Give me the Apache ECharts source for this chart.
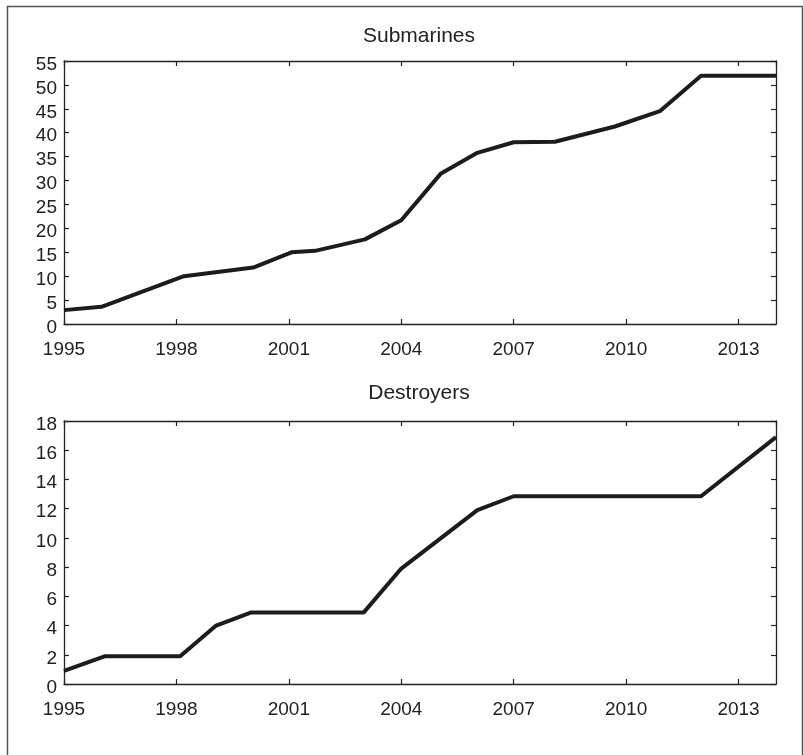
<!DOCTYPE html>
<html>
<head>
<meta charset="utf-8">
<script src="https://cdn.jsdelivr.net/npm/echarts@6/dist/echarts.min.js"></script>
<style>
html,body{margin:0;padding:0;background:#fff;}
#chart{width:803px;height:755px;}
</style>
</head>
<body>
<div id="chart"></div>
<script>
// Submarines
var subYears = [1995, 1996, 1998.2, 2000.05, 2001.07, 2001.7, 2003.03, 2004, 2005.05, 2006.03, 2007, 2008.1, 2009.7, 2010.9, 2012, 2014];
var subValues = [2.9, 3.6, 10.0, 11.8, 15.0, 15.3, 17.7, 21.7, 31.4, 35.8, 38.0, 38.1, 41.3, 44.5, 51.9, 51.9];
// Destroyers
var desYears = [1995, 1996.1, 1998.1, 1999.06, 2000, 2003, 2004, 2006.03, 2007, 2012, 2014];
var desValues = [0.9, 1.9, 1.9, 4.0, 4.9, 4.9, 7.9, 11.9, 12.85, 12.85, 16.9];
var titles = ['Submarines', 'Destroyers'];
var xMin = 1995, xMax = 2014, xStep = 3;
var subYMax = 55, subYStep = 5;
var desYMax = 18, desYStep = 2;

function pairs(xs, ys) { return xs.map(function (x, i) { return [x, ys[i]]; }); }

var FONT = 'Liberation Sans, Arial, sans-serif';
var INK = '#222';
var frameLine = { show: true, onZero: false, lineStyle: { color: INK, width: 1.3 } };
var tick = { show: true, inside: true, length: 5, lineStyle: { color: INK, width: 1.2 } };
var lbl = { color: INK, fontSize: 19, fontFamily: FONT };

function xAxes(gi) {
  return [
    { gridIndex: gi, type: 'value', min: xMin, max: xMax, interval: xStep, position: 'bottom',
      axisLine: frameLine, axisTick: tick, splitLine: { show: false },
      axisLabel: Object.assign({ margin: 16, showMaxLabel: false, formatter: function (v) { return String(v); } }, lbl) },
    { gridIndex: gi, type: 'value', min: xMin, max: xMax, interval: xStep, position: 'top',
      axisLine: frameLine, axisTick: tick, splitLine: { show: false }, axisLabel: { show: false } }
  ];
}
function yAxes(gi, max, step) {
  return [
    { gridIndex: gi, type: 'value', min: 0, max: max, interval: step, position: 'left',
      axisLine: frameLine, axisTick: tick, splitLine: { show: false },
      axisLabel: { margin: 7, formatter: function (v) { return '{a|' + v + '}'; },
        rich: { a: { color: INK, fontSize: 19, fontFamily: FONT, padding: [7, 0, 0, 0] } } } },
    { gridIndex: gi, type: 'value', min: 0, max: max, interval: step, position: 'right',
      axisLine: frameLine, axisTick: tick, splitLine: { show: false }, axisLabel: { show: false } }
  ];
}

var chart = echarts.init(document.getElementById('chart'), null, { renderer: 'canvas' });
chart.setOption({
  backgroundColor: '#fff',
  animation: false,
  grid: [
    { left: 64, top: 61, width: 712, height: 263 },
    { left: 64, top: 421, width: 712, height: 263 }
  ],
  xAxis: xAxes(0).concat(xAxes(1)),
  yAxis: yAxes(0, subYMax, subYStep).concat(yAxes(1, desYMax, desYStep)),
  series: [
    { type: 'line', xAxisIndex: 0, yAxisIndex: 0, data: pairs(subYears, subValues), symbol: 'none',
      lineStyle: { color: '#1c1c1c', width: 4 } },
    { type: 'line', xAxisIndex: 2, yAxisIndex: 2, data: pairs(desYears, desValues), symbol: 'none',
      lineStyle: { color: '#1c1c1c', width: 4 } }
  ],
  graphic: [
    { type: 'rect', left: 5, top: 4, shape: { x: 0, y: 0, width: 795, height: 800 },
      style: { fill: 'none', stroke: '#555', lineWidth: 1.5 }, silent: true, z: -1 },
    { type: 'text', x: 419, y: 36.5, style: { text: titles[0], fill: INK, font: '21px ' + FONT, textAlign: 'center', textVerticalAlign: 'middle' } },
    { type: 'text', x: 419, y: 393, style: { text: titles[1], fill: INK, font: '21px ' + FONT, textAlign: 'center', textVerticalAlign: 'middle' } }
  ]
});
</script>
</body>
</html>
